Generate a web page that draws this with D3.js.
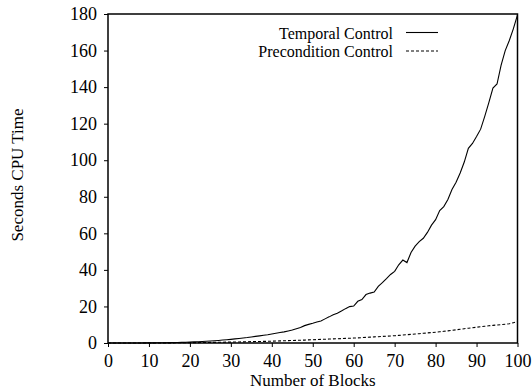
<!DOCTYPE html>
<html>
<head>
<meta charset="utf-8">
<script src="https://cdn.jsdelivr.net/npm/d3@7"></script>
<style>
  body { margin: 0; background: #fff; }
  svg text { font-family: "Liberation Serif", "Times New Roman", serif; fill: #000; }
</style>
</head>
<body>
<div id="chart"></div>
<script>
// number of blocks (x values)
var blocks = [0,1,2,3,4,5,6,7,8,9,10,11,12,13,14,15,16,17,18,19,20,21,22,23,24,25,26,27,28,29,30,
  31,32,33,34,35,36,37,38,39,40,41,42,43,44,45,46,47,48,49,50,51,52,53,54,55,56,57,58,59,60,
  61,62,63,64,65,66,67,68,69,70,71,72,73,74,75,76,77,78,79,80,81,82,83,84,85,86,87,88,89,90,
  91,92,93,94,95,96,97,98,99,100];

// seconds CPU time
var temporalControl = [0,0,0,0,0,0.01,0.02,0.03,0.04,0.05,0.07,0.09,0.11,0.14,0.17,0.2,0.25,0.3,0.36,0.43,
  0.5,0.6,0.7,0.82,0.95,1.1,1.25,1.4,1.6,1.8,2.0,2.25,2.5,2.75,3.0,3.3,3.6,3.9,4.2,4.5,
  4.9,5.3,5.7,6.1,6.6,7.1,7.8,8.5,9.5,10.2,10.8,11.5,12.0,13.2,14.3,15.5,16.3,17.5,18.8,19.9,
  20.2,22.8,23.8,26.5,27.3,27.9,31.0,33.0,35.2,37.5,39.2,42.8,45.4,44.0,49.5,53.0,55.5,57.3,60.5,64.5,
  67.5,72.5,74.6,78.5,84.0,88.0,93.0,99.0,106.5,109.2,113.0,117.0,124.0,131.5,139.5,141.7,152.0,160.0,165.5,172.0,
  179.5];

var preconditionControl = [0,0,0,0,0,0,0,0,0,0,0.01,0.02,0.03,0.04,0.05,0.07,0.09,0.11,0.13,0.15,
  0.18,0.2,0.23,0.26,0.29,0.32,0.35,0.38,0.42,0.46,0.5,0.54,0.58,0.63,0.68,0.73,0.78,0.83,0.88,0.94,
  1.0,1.07,1.14,1.21,1.28,1.36,1.44,1.52,1.6,1.7,1.8,1.88,1.97,2.06,2.15,2.24,2.33,2.42,2.52,2.61,
  2.7,2.82,2.94,3.07,3.2,3.33,3.46,3.6,3.73,3.86,4.0,4.17,4.35,4.53,4.72,4.91,5.1,5.3,5.5,5.7,
  5.9,6.15,6.4,6.65,6.9,7.2,7.5,7.8,8.1,8.35,8.6,8.9,9.15,9.4,9.65,9.85,10.05,10.25,10.5,11.1,
  11.7];

var xTicks = [0,10,20,30,40,50,60,70,80,90,100];
var yTicks = [0,20,40,60,80,100,120,140,160,180];
var seriesNames = ["Temporal Control", "Precondition Control"];

var W = 532, H = 390;
var margin = {top: 14, right: 14.5, bottom: 47, left: 108};
var width = W - margin.left - margin.right,
    height = H - margin.top - margin.bottom;

var svg = d3.select("#chart").append("svg")
    .attr("width", W)
    .attr("height", H);

var g = svg.append("g")
    .attr("transform", "translate(" + margin.left + "," + margin.top + ")");

var x = d3.scaleLinear().domain([0, 100]).range([0, width]);
var y = d3.scaleLinear().domain([0, 180]).range([height, 0]);

// axes
var xAxis = g.append("g")
    .attr("transform", "translate(0," + height + ")")
    .call(d3.axisBottom(x).tickValues(xTicks).tickSize(4).tickSizeOuter(0).tickPadding(7));
var yAxis = g.append("g")
    .call(d3.axisLeft(y).tickValues(yTicks).tickSize(4).tickSizeOuter(0).tickPadding(7));

[xAxis, yAxis].forEach(function(a) {
  a.attr("font-family", '"Liberation Serif", serif').attr("font-size", 18);
  a.select(".domain").remove();
  a.selectAll("line").attr("stroke", "#000").attr("stroke-width", 1);
  a.selectAll("text")
    .style("font-family", '"Liberation Serif", serif')
    .style("font-size", "18px")
    .attr("fill", "#000");
});

// frame
g.append("rect")
    .attr("x", 0).attr("y", 0)
    .attr("width", width).attr("height", height)
    .attr("fill", "none")
    .attr("stroke", "#000")
    .attr("stroke-width", 1.5);

// lines
var line1 = d3.line()
    .x(function(d, i) { return x(blocks[i]); })
    .y(function(d) { return y(d); });

g.append("path")
    .attr("d", line1(temporalControl))
    .attr("fill", "none")
    .attr("stroke", "#000")
    .attr("stroke-width", 1.1);

g.append("path")
    .attr("d", line1(preconditionControl))
    .attr("fill", "none")
    .attr("stroke", "#000")
    .attr("stroke-width", 1.1)
    .attr("stroke-dasharray", "3,2");

// legend
var legend = svg.append("g");
seriesNames.forEach(function(name, i) {
  var ly = 32.5 + i * 18.5;
  legend.append("text")
      .attr("x", 393)
      .attr("y", ly + 6)
      .attr("text-anchor", "end")
      .style("font-size", "16px")
      .text(name);
  legend.append("line")
      .attr("x1", 406).attr("x2", 438)
      .attr("y1", ly).attr("y2", ly)
      .attr("stroke", "#000")
      .attr("stroke-width", 1.1)
      .attr("stroke-dasharray", i === 1 ? "3,2" : null);
});

// axis titles
svg.append("text")
    .attr("x", margin.left + width / 2)
    .attr("y", 386)
    .attr("text-anchor", "middle")
    .style("font-size", "17px")
    .text("Number of Blocks");

svg.append("text")
    .attr("transform", "translate(23,175)rotate(-90)")
    .attr("text-anchor", "middle")
    .style("font-size", "17px")
    .text("Seconds CPU Time");
</script>
</body>
</html>
